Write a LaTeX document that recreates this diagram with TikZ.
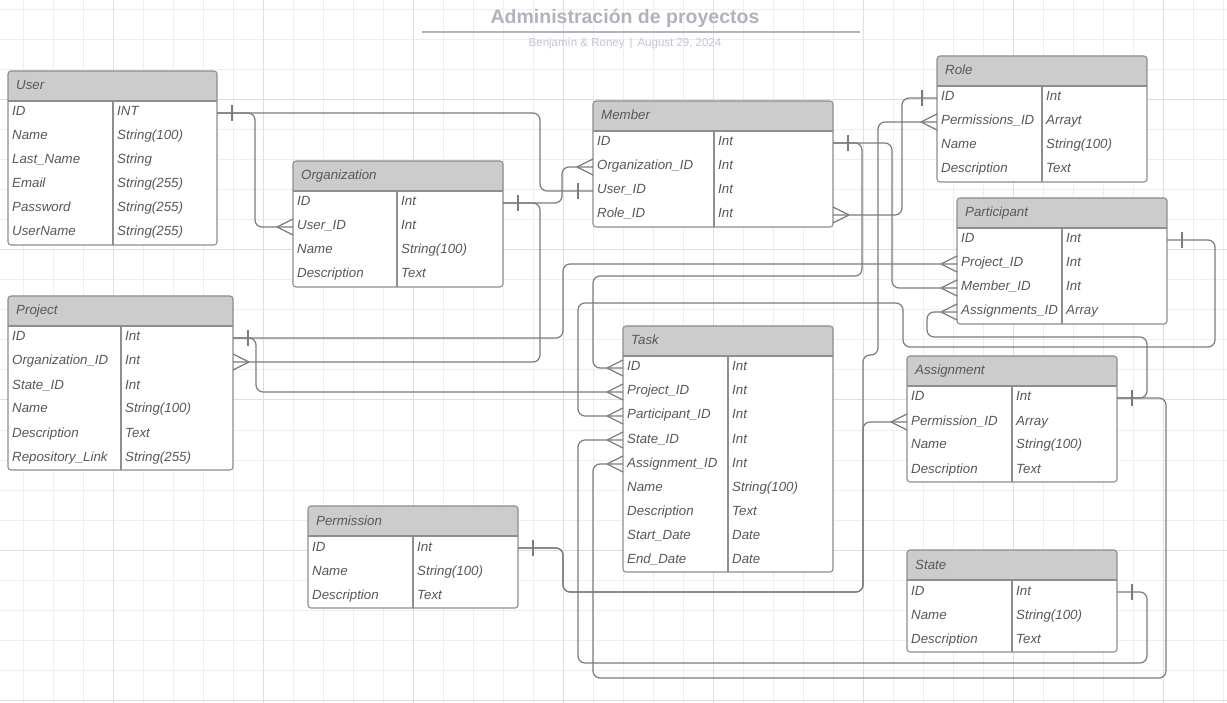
\documentclass[tikz,border=0pt]{standalone}
\usepackage{fontspec}
\setmainfont{Liberation Sans}
\usetikzlibrary{calc}

\definecolor{gridminor}{HTML}{EEEEEE}
\definecolor{gridmajor}{HTML}{DEDEDE}
\definecolor{headfill}{HTML}{CCCCCC}
\definecolor{framegray}{HTML}{8E8E8E}
\definecolor{fieldgray}{HTML}{585858}
\definecolor{linegray}{HTML}{7C7C7C}
\definecolor{titlegray}{HTML}{AEB3BD}
\definecolor{subgray}{HTML}{C2C6CD}

% one table: name, left, top, width, key column, rows, title, fields
\newcommand{\entity}[8]{%
  \fill[white,rounded corners=3pt] (#2,#3) rectangle (#2+#4,#3+30+24*#6);
  \fill[headfill,rounded corners=3pt] (#2,#3) rectangle (#2+#4,#3+30);
  \fill[headfill] (#2,#3+20) rectangle (#2+#4,#3+30);
  \node[headtext] (#1) at (#2+6,#3+19) {#7};
  \foreach \fld/\typ [count=\i] in {#8} {
    \node[rowbox,minimum width=#4] (#1-\i) at (#2+#4/2,#3+18+24*\i) {};
    \node[fieldtext] at (#2+3,#3+21+24*\i) {\fld};
    \node[fieldtext] at (#2+#5+3,#3+21+24*\i) {\typ};
  }
  \draw[frame] (#2,#3+30) -- (#2+#4,#3+30) (#2+#5,#3+30) -- (#2+#5,#3+30+24*#6);
  \draw[frame,rounded corners=3pt] (#2,#3) rectangle (#2+#4,#3+30+24*#6);
}

% cardinality marks
\newcommand{\manyW}[1]{\draw[cardmark] ([xshift=-16pt]#1.west) -- ([yshift=8pt]#1.west)
  ([xshift=-16pt]#1.west) -- ([yshift=-8pt]#1.west);}
\newcommand{\manyE}[1]{\draw[cardmark] ([xshift=16pt]#1.east) -- ([yshift=8pt]#1.east)
  ([xshift=16pt]#1.east) -- ([yshift=-8pt]#1.east);}
\newcommand{\oneW}[1]{\draw[cardmark] ([xshift=-15pt,yshift=8pt]#1.west) -- ([xshift=-15pt,yshift=-8pt]#1.west);}
\newcommand{\oneE}[1]{\draw[cardmark] ([xshift=15pt,yshift=8pt]#1.east) -- ([xshift=15pt,yshift=-8pt]#1.east);}

\begin{document}
\begin{tikzpicture}[
    x=1pt,
    y=-1pt,
    frame/.style={draw=framegray,line width=1.1pt},
    conn/.style={draw=linegray,line width=1.2pt,rounded corners=7pt},
    cardmark/.style={draw=linegray,line width=1.2pt},
    rowbox/.style={draw=none,minimum height=24,inner sep=0pt,outer sep=0pt},
    fieldtext/.style={anchor=base west,inner sep=1pt,text=fieldgray,font=\fontsize{13.3}{15}\selectfont\itshape},
    headtext/.style={fieldtext,inner sep=2pt},
    title/.style={text=titlegray,font=\fontsize{19.5}{22}\selectfont\bfseries},
    subtitle/.style={text=subgray,font=\fontsize{11.5}{13}\selectfont}
  ]
  \useasboundingbox (0,0) rectangle (1227,703);
  \fill[white] (0,0) rectangle (1227,703);

  % grid
  \foreach \gx in {23,53,...,1223} \draw[gridminor,line width=1pt] (\gx,0) -- (\gx,703);
  \foreach \gy in {10,40,...,700} \draw[gridminor,line width=1pt] (0,\gy) -- (1227,\gy);
  \foreach \gx in {113,263,...,1163} \draw[gridmajor,line width=1pt] (\gx,0) -- (\gx,703);
  \foreach \gy in {100,250,...,700} \draw[gridmajor,line width=1pt] (0,\gy) -- (1227,\gy);

  % heading
  \node[title] (title) at (625,18) {Administración de proyectos};
  \draw[titlegray,line width=1.8pt] (422,32) -- (860,32);
  \node[subtitle] (subtitle) at (625,43) {Benjamín \& Roney\hspace{5pt}|\hspace{5pt}August 29, 2024};

  % tables
  \entity{user}{8}{71}{209}{105}{6}{User}{ID/INT, Name/String(100), Last\_Name/String,
    Email/String(255), Password/String(255), UserName/String(255)}
  \entity{org}{293}{161}{210}{104}{4}{Organization}{ID/Int, User\_ID/Int,
    Name/String(100), Description/Text}
  \entity{member}{593}{101}{240}{121}{4}{Member}{ID/Int, Organization\_ID/Int,
    User\_ID/Int, Role\_ID/Int}
  \entity{role}{937}{56}{210}{105}{4}{Role}{ID/Int, Permissions\_ID/Arrayt,
    Name/String(100), Description/Text}
  \entity{part}{957}{198}{210}{105}{4}{Participant}{ID/Int, Project\_ID/Int,
    Member\_ID/Int, Assignments\_ID/Array}
  \entity{project}{8}{296}{225}{113}{6}{Project}{ID/Int, Organization\_ID/Int,
    State\_ID/Int, Name/String(100), Description/Text, Repository\_Link/String(255)}
  \entity{task}{623}{326}{210}{105}{9}{Task}{ID/Int, Project\_ID/Int,
    Participant\_ID/Int, State\_ID/Int, Assignment\_ID/Int, Name/String(100),
    Description/Text, Start\_Date/Date, End\_Date/Date}
  \entity{assign}{907}{356}{210}{105}{4}{Assignment}{ID/Int, Permission\_ID/Array,
    Name/String(100), Description/Text}
  \entity{perm}{308}{506}{210}{105}{3}{Permission}{ID/Int, Name/String(100),
    Description/Text}
  \entity{state}{907}{550}{210}{105}{3}{State}{ID/Int, Name/String(100),
    Description/Text}

  % relations
  \draw[conn] (user-1.east) -| (540,0 |- member-3.west) -- (member-3.west);
  \draw[conn] (user-1.east) -| (255,0 |- org-2.west) -- (org-2.west);
  \draw[conn] (org-1.east) -| (562,0 |- member-2.west) -- (member-2.west);
  \draw[conn] (org-1.east) -| (540,0 |- project-2.east) -- (project-2.east);
  \draw[conn] (project-1.east) -| (563,0 |- part-2.west) -- (part-2.west);
  \draw[conn] (project-1.east) -| (256,0 |- task-2.west) -- (task-2.west);
  \draw[conn] (member-1.east) -| (862,276) -| (593,0 |- task-1.west) -- (task-1.west);
  \draw[conn] (member-1.east) -| (892,0 |- part-3.west) -- (part-3.west);
  \draw[conn] (role-1.west) -| (902,0 |- member-4.east) -- (member-4.east);
  \draw[conn] (perm-1.east) -| (563,592) -| (863,355) -| (878,0 |- role-2.west) -- (role-2.west);
  \draw[conn] (perm-1.east) -| (563,592) -| (863,0 |- assign-2.west) -- (assign-2.west);
  \draw[conn] (part-1.east) -| (1215,347) -| (903,303) -| (578,0 |- task-3.west) -- (task-3.west);
  \draw[conn] (assign-1.east) -| (1147,337) -| (927,0 |- part-4.west) -- (part-4.west);
  \draw[conn] (assign-1.east) -| (1166,678) -| (593,0 |- task-5.west) -- (task-5.west);
  \draw[conn] (state-1.east) -| (1147,663) -| (578,0 |- task-4.west) -- (task-4.west);

  % cardinality
  \oneE{user-1}   \manyW{org-2}    \oneW{member-3}
  \oneE{org-1}    \manyW{member-2} \manyE{project-2}
  \oneE{project-1} \manyW{part-2}  \manyW{task-2}
  \oneE{member-1} \manyW{task-1}   \manyW{part-3}
  \oneW{role-1}   \manyE{member-4}
  \oneE{perm-1}   \manyW{role-2}   \manyW{assign-2}
  \oneE{part-1}   \manyW{task-3}
  \oneE{assign-1} \manyW{part-4}   \manyW{task-5}
  \oneE{state-1}  \manyW{task-4}
\end{tikzpicture}
\end{document}
